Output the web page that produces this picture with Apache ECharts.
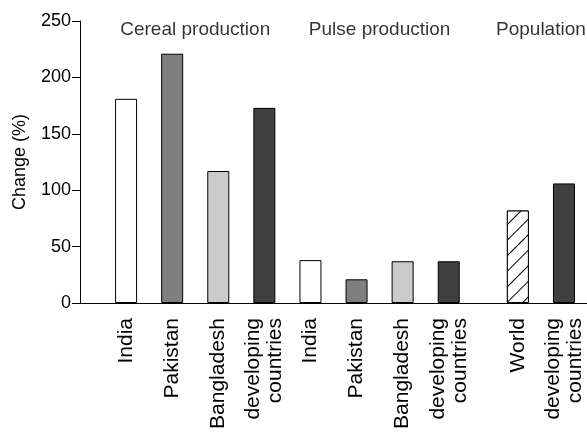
<!DOCTYPE html>
<html>
<head>
<meta charset="utf-8">
<script src="https://cdn.jsdelivr.net/npm/echarts@6/dist/echarts.min.js"></script>
<style>
  html, body { margin: 0; padding: 0; background: #fff; }
  #chart { width: 587px; height: 433px; }
</style>
</head>
<body>
<div id="chart"></div>
<script>
const groups = ['Cereal production', 'Pulse production', 'Population'];
const categories = [
  'India', 'Pakistan', 'Bangladesh', 'developing\ncountries',
  'India', 'Pakistan', 'Bangladesh', 'developing\ncountries',
  'World', 'developing\ncountries',
];
const groupOf = [0, 0, 0, 0, 1, 1, 1, 1, 2, 2];
const values = [181, 221, 117, 173, 38, 21, 37, 37, 82, 106];
const yTicks = [0, 50, 100, 150, 200, 250];

// layout: each bar takes two slots, population group is shifted by one more slot
const slotOf = (i) => 2 + i * 2 + (groupOf[i] === 2 ? 1 : 0);
const slotCount = 23;

const fills = {
  'India': '#ffffff',
  'Pakistan': '#7f7f7f',
  'Bangladesh': '#cbcbcb',
  'developing\ncountries': '#404040',
  'World': '#ffffff',
};

const axisData = new Array(slotCount).fill('');
const barData = new Array(slotCount).fill('-');
categories.forEach((name, i) => {
  const s = slotOf(i);
  axisData[s] = name;
  const item = {
    value: values[i],
    itemStyle: { color: fills[name], borderColor: '#000', borderWidth: 1 },
  };
  if (name === 'World') {
    item.itemStyle.decal = {
      symbol: 'rect',
      symbolSize: 1,
      color: '#000',
      backgroundColor: '#fff',
      dashArrayX: [1, 0],
      dashArrayY: [1, 10],
      rotation: -Math.PI / 4,
    };
  }
  barData[s] = item;
});

const groupLabels = groups.map((g, gi) => {
  const slots = categories.map((c, i) => i).filter((i) => groupOf[i] === gi).map(slotOf);
  return { value: [(Math.min(...slots) + Math.max(...slots)) / 2, 242], name: g };
});

const font = 'Liberation Sans, Arial, Helvetica, sans-serif';
const chart = echarts.init(document.getElementById('chart'));

chart.setOption({
  animation: false,
  textStyle: { fontFamily: font },
  grid: { left: 80, right: 0, top: 21, bottom: 130 },
  xAxis: {
    type: 'category',
    data: axisData,
    boundaryGap: false,
    axisLine: { lineStyle: { color: '#000', width: 1 } },
    axisTick: { show: false },
    axisLabel: {
      interval: 0,
      rotate: 90,
      margin: 15,
      color: '#000',
      fontSize: 21,
      lineHeight: 22,
      fontFamily: font,
    },
    splitLine: { show: false },
  },
  yAxis: {
    type: 'value',
    min: yTicks[0],
    max: yTicks[yTicks.length - 1],
    interval: 50,
    name: 'Change (%)',
    nameLocation: 'middle',
    nameRotate: 90,
    nameGap: 51,
    nameTextStyle: { color: '#000', fontSize: 18, fontFamily: font },
    axisLine: { show: true, lineStyle: { color: '#000', width: 1 } },
    axisTick: { show: true, length: 8, lineStyle: { color: '#000' } },
    axisLabel: { color: '#000', fontSize: 18, margin: 9, fontFamily: font },
    splitLine: { show: false },
  },
  series: [
    {
      type: 'bar',
      data: barData,
      barWidth: 22,
    },
    {
      type: 'scatter',
      data: groupLabels,
      symbolSize: 0,
      silent: true,
      label: {
        show: true,
        position: 'inside',
        formatter: (p) => p.name,
        color: '#000',
        fontSize: 19,
        fontFamily: font,
      },
    },
  ],
});
</script>
</body>
</html>
